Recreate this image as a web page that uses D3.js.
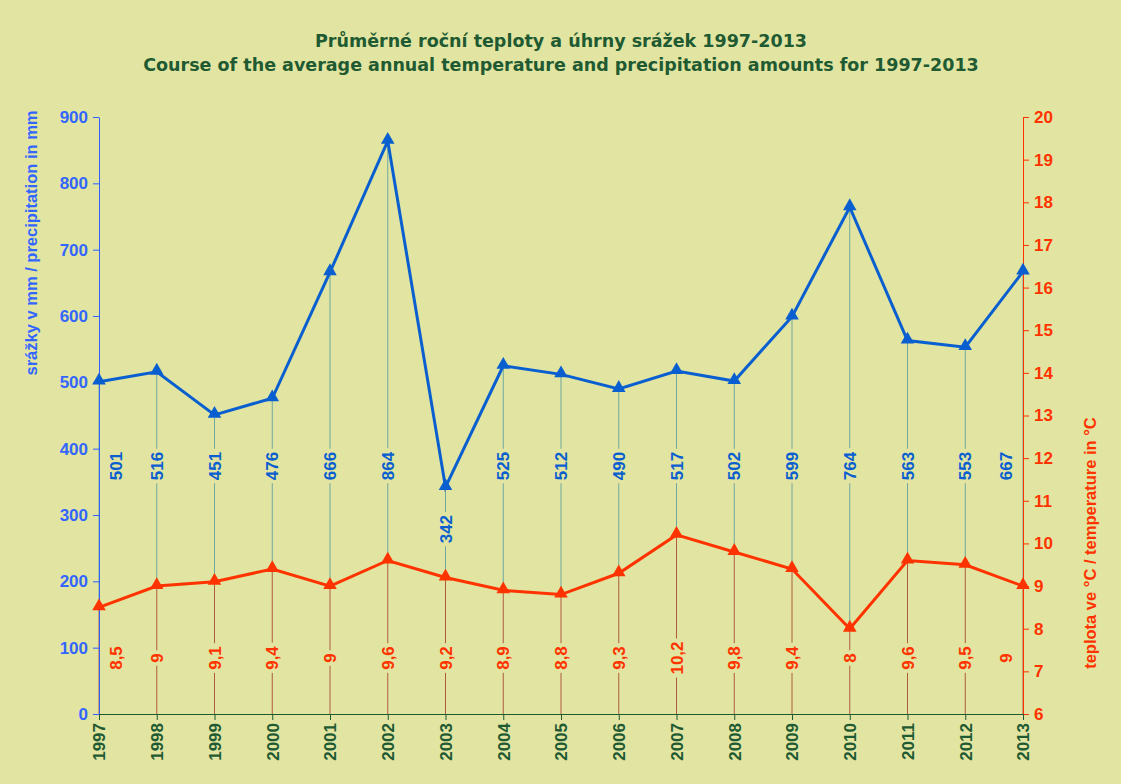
<!DOCTYPE html><html><head><meta charset="utf-8"><script src="https://cdn.jsdelivr.net/npm/d3@7"></script>
<style>body{margin:0;background:#e1e5a1}</style></head><body><svg id="c" width="1121" height="784"></svg>
<script>
const years=[1997,1998,1999,2000,2001,2002,2003,2004,2005,2006,2007,2008,2009,2010,2011,2012,2013];
const precip=[501,516,451,476,666,864,342,525,512,490,517,502,599,764,563,553,667];
const temp=[8.5,9,9.1,9.4,9,9.6,9.2,8.9,8.8,9.3,10.2,9.8,9.4,8,9.6,9.5,9];
const leftTicks=d3.range(0,901,100), rightTicks=d3.range(6,21,1);
const bg="#e1e5a1", blue="#0a5fd0", red="#ff3300", green="#1f5a32";
const F="Arial, Liberation Sans, sans-serif";
const svg=d3.select("#c");
svg.append("rect").attr("width",1121).attr("height",784).attr("fill",bg);
const x=d3.scalePoint().domain(years).range([99,1023]);
const yl=d3.scaleLinear().domain([0,900]).range([714,117]);
const yr=d3.scaleLinear().domain([6,20]).range([714,117]);
const t=svg.append("text").attr("x",561).attr("text-anchor","middle").attr("fill",green).attr("font-family","Verdana, DejaVu Sans, sans-serif").attr("font-weight","bold").attr("font-size",17.5);
t.append("tspan").attr("x",561).attr("y",47).text("Průměrné roční teploty a úhrny srážek 1997-2013");
t.append("tspan").attr("x",561).attr("y",71).text("Course of the average annual temperature and precipitation amounts for 1997-2013");
years.forEach((yy,i)=>{
 svg.append("line").attr("x1",x(yy)).attr("x2",x(yy)).attr("y1",yl(precip[i])).attr("y2",yr(temp[i])).attr("stroke","#6fa8a0").attr("stroke-width",1);
 svg.append("line").attr("x1",x(yy)).attr("x2",x(yy)).attr("y1",yr(temp[i])).attr("y2",714).attr("stroke","#b05a40").attr("stroke-width",1);
});
const lg=svg.append("g").attr("transform","translate(99,0)").call(d3.axisLeft(yl).tickValues(leftTicks).tickSize(6).tickSizeOuter(0));
lg.selectAll("path,line").attr("stroke","#3060ff");
lg.selectAll("text").attr("fill","#3366ff").attr("font-family",F).attr("font-weight","bold").attr("font-size",17).attr("dx",-2);
const rg=svg.append("g").attr("transform","translate(1023,0)").call(d3.axisRight(yr).tickValues(rightTicks).tickSize(6).tickSizeOuter(0));
rg.selectAll("path,line").attr("stroke",red);
rg.selectAll("text").attr("fill",red).attr("font-family",F).attr("font-weight","bold").attr("font-size",17).attr("dx",2);
const bgx=svg.append("g").attr("transform","translate(0,714)").call(d3.axisBottom(x).tickSize(6).tickSizeOuter(0).tickFormat(d3.format("d")));
bgx.selectAll("path,line").attr("stroke",green);
bgx.selectAll("text").attr("fill",green).attr("font-family",F).attr("font-weight","bold").attr("font-size",17)
 .attr("transform","rotate(-90)").attr("text-anchor","end").attr("x",-9).attr("y",0).attr("dy","0.35em");
svg.append("text").attr("transform","translate(37,243) rotate(-90)").attr("text-anchor","middle").attr("fill","#3366ff").attr("font-family",F).attr("font-weight","bold").attr("font-size",16.5).text("srážky v mm / precipitation in mm");
svg.append("text").attr("transform","translate(1096,543) rotate(-90)").attr("text-anchor","middle").attr("fill",red).attr("font-family",F).attr("font-weight","bold").attr("font-size",16.5).text("teplota ve °C / temperature in °C");
const tri=d3.symbol().type(d3.symbolTriangle).size(80);
svg.append("path").datum(precip).attr("fill","none").attr("stroke",blue).attr("stroke-width",3).attr("d",d3.line().x((d,i)=>x(years[i])).y(d=>yl(d)));
svg.append("path").datum(temp).attr("fill","none").attr("stroke",red).attr("stroke-width",3).attr("d",d3.line().x((d,i)=>x(years[i])).y(d=>yr(d)));
svg.selectAll(".pt").data(precip).join("path").attr("d",tri).attr("fill",blue).attr("transform",(d,i)=>`translate(${x(years[i])},${yl(d)-1})`);
svg.selectAll(".tt").data(temp).join("path").attr("d",tri).attr("fill",red).attr("transform",(d,i)=>`translate(${x(years[i])},${yr(d)-1})`);
function lab(val,i,cy,col,str){
 let cx=x(years[i]); if(i===0)cx+=17; if(i===years.length-1)cx-=17;
 const g=svg.append("g").attr("transform",`translate(${cx},${cy}) rotate(-90)`);
 const tx=g.append("text").attr("text-anchor","middle").attr("dy","0.36em").attr("fill",col).attr("font-family",F).attr("font-weight","bold").attr("font-size",17).text(str);
 const b=tx.node().getBBox();
 g.insert("rect","text").attr("x",b.x-3).attr("y",b.y+1).attr("width",b.width+6).attr("height",b.height-2).attr("fill",bg);
}
precip.forEach((v,i)=>lab(v,i, v<400? yl(v)+42 : 466, blue, String(v)));
temp.forEach((v,i)=>lab(v,i, 658, red, String(v).replace(".",",")));
</script></body></html>
